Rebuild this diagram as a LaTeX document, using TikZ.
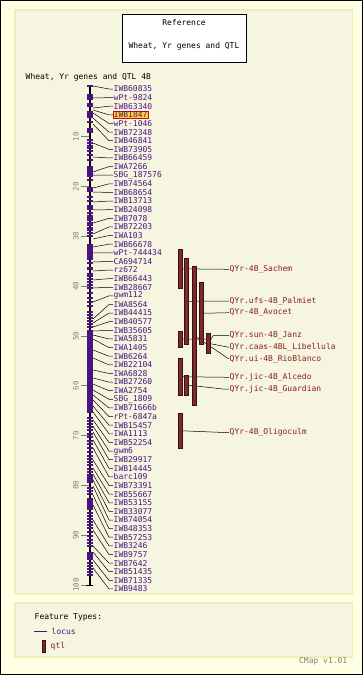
\documentclass[tikz,border=0pt]{standalone}
\usepackage{fontspec}
\setmonofont{DejaVu Sans Mono}
\usetikzlibrary{positioning}

\definecolor{outerbg}{HTML}{FFFFE4}
\definecolor{panelbg}{HTML}{F6F6E0}
\definecolor{panelline}{HTML}{EEEEB8}
\definecolor{locus}{HTML}{4B1285}
\definecolor{qtltext}{HTML}{8B1E1E}
\definecolor{qtlfill}{HTML}{7A2C2C}
\definecolor{qtledge}{HTML}{3E0E0E}
\definecolor{hilite}{HTML}{FFD23C}

\begin{document}
\begin{tikzpicture}[
    x=1pt, y=-1pt,
    panel/.style={fill=panelbg, draw=panelline, line width=1.2pt},
    txt/.style={font=\ttfamily\fontsize{8}{8}\selectfont, inner sep=0.5pt},
    marker/.style={txt, text=locus, anchor=west},
    markhl/.style={fill=hilite, draw=red!85!black, line width=0.6pt},
    qtllab/.style={txt, text=qtltext, anchor=west},
    qtlbar/.style={fill=qtlfill, draw=qtledge, line width=0.5pt, minimum width=4, inner sep=0pt},
    link/.style={black, line width=0.5pt},
    spine/.style={black, line width=2pt},
    tickmark/.style={locus, line width=1.1pt},
    block/.style={fill=locus},
    scaletick/.style={gray, line width=0.7pt},
    scalelab/.style={font=\ttfamily\fontsize{7.5}{7.5}\selectfont, text=gray, rotate=90, inner sep=0pt}
]
\useasboundingbox (0,0) rectangle (363,675);

% frame and panels
\fill[outerbg, draw=black, line width=2pt] (0,0) rectangle (363,675);
\draw[panel] (15,10) rectangle (352.5,594);
\draw[panel] (15,603) rectangle (352.5,657);

% title
\node[draw=black, fill=white, line width=0.8pt, minimum width=124, minimum height=48, inner sep=0pt] (title) at (184,38) {};
\node[txt] (ref) at (184,22.5) {Reference};
\node[txt] (reftitle) at (184,46) {Wheat, Yr genes and QTL};
\node[txt, anchor=west] (mapname) at (25,77.5) {Wheat, Yr genes and QTL 4B};

% scale
\foreach \c in {10,20,...,100} {
    \pgfmathsetmacro\sy{87+4.98*\c}
    \draw[scaletick] (81,\sy) -- (90,\sy);
    \node[scalelab] at (76,\sy) {\c};
}

% chromosome
\draw[spine] (90,86) -- (90,585);
\draw[black, line width=1pt] (86,585) -- (93,585);
\foreach \a/\b in {103/107, 111/118, 128/133, 166/177, 187/192, 205/210, 244/260,
    267/270, 273/277, 330/413, 476/483, 498/510, 552/560}
    \fill[block] (87,\a) rectangle (93,\b);
\foreach \t in {86, 95, 97, 99, 122, 140, 143, 146, 148, 151, 155, 160, 180, 197, 201,
    213, 216, 218, 220, 223, 225, 228, 230, 233, 236, 263, 279, 282, 285, 288, 293,
    298, 302, 306, 312, 315, 318, 321, 324, 327, 418, 421, 424, 427, 430, 434, 437,
    441, 444, 448, 452, 456, 459, 462, 465, 469, 472, 475, 488, 491, 494, 513, 516,
    519, 522, 525, 528, 532, 536, 540, 543, 546, 563, 566, 569, 572, 575}
    \draw[tickmark] (87,\t) -- (93,\t);

% loci
\foreach \lab/\sy [count=\i] in {IWB60835/86, wPt-9824/98, IWB63340/108, IWB1847/110,
    wPt-1046/113, IWB72348/118, IWB46841/124, IWB73905/143, IWB66459/157, IWA7266/172,
    SBG\_187576/175, IWB74564/188, IWB68654/192, IWB13713/202, IWB24098/210,
    IWB7078/223, IWB72203/234, IWA103/239, IWB66678/247, wPt-744434/253,
    CA694714/262, rz672/271, IWB66443/280, IWB28667/288, gwm112/302, IWA8564/319,
    IWB44415/323, IWB40577/327, IWB35605/331, IWA5831/335, IWA1405/339, IWB6264/350,
    IWB22104/358, IWA6828/370, IWB27260/378, IWA2754/384, SBG\_1809/390,
    IWB71666b/395, rPt-6847a/400, IWB15457/406, IWA1113/412, IWB52254/420, gwm6/426,
    IWB29917/432, IWB14445/440, barc109/448, IWB73391/460, IWB55667/468,
    IWB53155/474, IWB33077/480, IWB74054/486, IWB48353/495, IWB57253/505,
    IWB3246/520, IWB9757/530, IWB7642/546, IWB51435/552, IWB71335/560, IWB9483/568} {
    \pgfmathsetmacro\ly{89+8.62*(\i-1)}
    \ifnum\i=4 \def\hl{markhl}\else\def\hl{}\fi
    \coordinate (s\i) at (93,\sy);
    \node[marker, \hl] (m\i) at (113,\ly) {\lab};
    \draw[link] (s\i) -- ([xshift=-4pt]m\i.west) -- (m\i.west);
}

% qtl
\coordinate (qa) at (180,268.8);
\coordinate (qb) at (186.7,301.3);
\coordinate (qc) at (194,335.5);
\coordinate (qd) at (201,313.3);
\coordinate (qe) at (208.3,343.3);
\coordinate (qf) at (180,339.2);
\coordinate (qg) at (180,376.7);
\coordinate (qh) at (186.7,385);
\coordinate (qi) at (180,430.7);

\node[qtllab] (sachem) at (229,269.3) {QYr-4B\_Sachem};
\node[qtllab] (palmiet) at (229,301) {QYr.ufs-4B\_Palmiet};
\node[qtllab] (avocet) at (229,312.7) {QYr-4B\_Avocet};
\node[qtllab] (janz) at (229,335.7) {QYr.sun-4B\_Janz};
\node[qtllab] (libellula) at (229,347.3) {QYr.caas-4BL\_Libellula};
\node[qtllab] (rioblanco) at (229,359) {QYr.ui-4B\_RioBlanco};
\node[qtllab] (alcedo) at (229,377.3) {QYr.jic-4B\_Alcedo};
\node[qtllab] (guardian) at (229,389) {QYr.jic-4B\_Guardian};
\node[qtllab] (oligoculm) at (229,432.7) {QYr-4B\_Oligoculm};

\draw[link] (qa) -- (sachem.west);
\draw[link] (qb) -- (palmiet.west);
\draw[link] (qd) -- (avocet.west);
\draw[link] (qf) -- ([xshift=-18pt]janz.west |- qf) -- ([xshift=-16pt]janz.west) -- (janz.west);
\draw[link] (qe) -- (libellula.west);
\draw[link] (qc) -- (rioblanco.west);
\draw[link] (qg) -- (alcedo.west);
\draw[link] (qh) -- ([xshift=-6pt]guardian.west) -- (guardian.west);
\draw[link] (qi) -- (oligoculm.west);

\node[qtlbar, minimum height=39] at (qa) {};
\node[qtlbar, minimum height=86] at (qb) {};
\node[qtlbar, minimum height=139] at (qc) {};
\node[qtlbar, minimum height=62] at (qd) {};
\node[qtlbar, minimum height=20] at (qe) {};
\node[qtlbar, minimum height=16.3] at (qf) {};
\node[qtlbar, minimum height=36.7] at (qg) {};
\node[qtlbar, minimum height=20] at (qh) {};
\node[qtlbar, minimum height=34.7] at (qi) {};

% legend
\node[txt, anchor=west] (ftypes) at (34,617.7) {Feature Types:};
\coordinate (lkey) at (34,631);
\node[marker] (lockey) at (51,631) {locus};
\draw[locus, line width=0.8pt] (lkey) -- ([xshift=-4pt]lockey.west);
\node[qtlbar, minimum width=3.4, minimum height=12] (qkey) at (44,646.3) {};
\node[qtllab] (qtlkey) at (50,646.3) {qtl};
\node[txt, text=gray, anchor=east] (version) at (348,661) {CMap v1.01};

\end{tikzpicture}
\end{document}
